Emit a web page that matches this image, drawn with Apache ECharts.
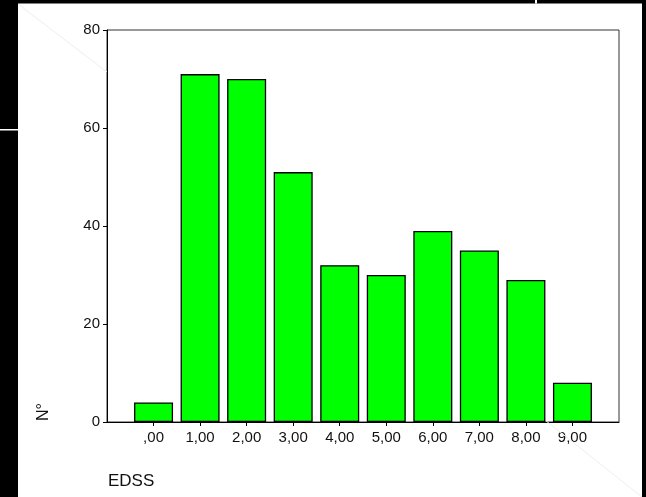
<!DOCTYPE html>
<html>
<head>
<meta charset="utf-8">
<script src="https://cdn.jsdelivr.net/npm/echarts@6/dist/echarts.min.js"></script>
<style>
html,body{margin:0;padding:0;background:#fff;}
#c{width:646px;height:497px;}
</style>
</head>
<body>
<div id="c"></div>
<script>
const categories = [',00', '1,00', '2,00', '3,00', '4,00', '5,00', '6,00', '7,00', '8,00', '9,00'];
const counts = [4, 71, 70, 51, 32, 30, 39, 35, 29, 8];
const yTicks = [0, 20, 40, 60, 80];
const xTitle = 'EDSS';
const yTitle = 'N°';

// pad with an empty slot on each side so bars sit one step in from the frame
const axisData = [''].concat(categories, ['']);
const seriesData = [null].concat(counts, [null]);

const chart = echarts.init(document.getElementById('c'), null, {renderer: 'canvas'});
const font = '"Liberation Sans", Arial, sans-serif';
chart.setOption({
  animation: false,
  backgroundColor: '#fff',
  grid: {left: 107, top: 30, right: 27, bottom: 75, show: true, borderColor: '#333', borderWidth: 1, backgroundColor: 'transparent'},
  xAxis: {
    type: 'category',
    data: axisData,
    boundaryGap: false,
    axisLine: {lineStyle: {color: '#000', width: 1}},
    axisTick: {show: true, length: 4, lineStyle: {color: '#000'}, interval: function (i) { return i > 0 && i < axisData.length - 1; }},
    axisLabel: {interval: 0, color: '#111', fontFamily: font, fontSize: 15, margin: 8},
    splitLine: {show: false}
  },
  yAxis: {
    type: 'value',
    min: yTicks[0],
    max: yTicks[yTicks.length - 1],
    interval: yTicks[1] - yTicks[0],
    axisLine: {show: true, lineStyle: {color: '#000', width: 1}},
    axisTick: {show: true, length: 4, lineStyle: {color: '#000'}},
    axisLabel: {color: '#111', fontFamily: font, fontSize: 15, margin: 7},
    splitLine: {show: false}
  },
  series: [{
    type: 'bar',
    data: seriesData,
    barWidth: 39,
    itemStyle: {color: '#00ff00', borderColor: '#000', borderWidth: 1.3}
  }],
  graphic: [
    {type: 'rect', shape: {x: 0, y: 0, width: 18, height: 497}, style: {fill: '#000'}, z: 100},
    {type: 'rect', shape: {x: 0, y: 0, width: 646, height: 3.5}, style: {fill: '#000'}, z: 100},
    {type: 'rect', shape: {x: 642, y: 0, width: 4, height: 497}, style: {fill: '#000'}, z: 100},
    {type: 'rect', shape: {x: 0, y: 129, width: 18, height: 1.5}, style: {fill: '#fff'}, z: 101},
    {type: 'rect', shape: {x: 535, y: 0, width: 2, height: 3.5}, style: {fill: '#fff'}, z: 101},
    {type: 'line', shape: {x1: 18, y1: 4, x2: 107, y2: 72}, style: {stroke: '#eeeeee', lineWidth: 1}, z: 1},
    {type: 'line', shape: {x1: 545, y1: 420, x2: 642, y2: 497}, style: {stroke: '#eeeeee', lineWidth: 1}, z: 1},
    {type: 'text', x: 108, y: 481, style: {text: xTitle, fill: '#111', font: '17px ' + font, textAlign: 'left', textVerticalAlign: 'middle'}},
    {type: 'text', x: 44, y: 412, rotation: Math.PI / 2, style: {text: yTitle, fill: '#111', font: '16px ' + font, textAlign: 'center', textVerticalAlign: 'middle'}}
  ]
});
</script>
</body>
</html>
